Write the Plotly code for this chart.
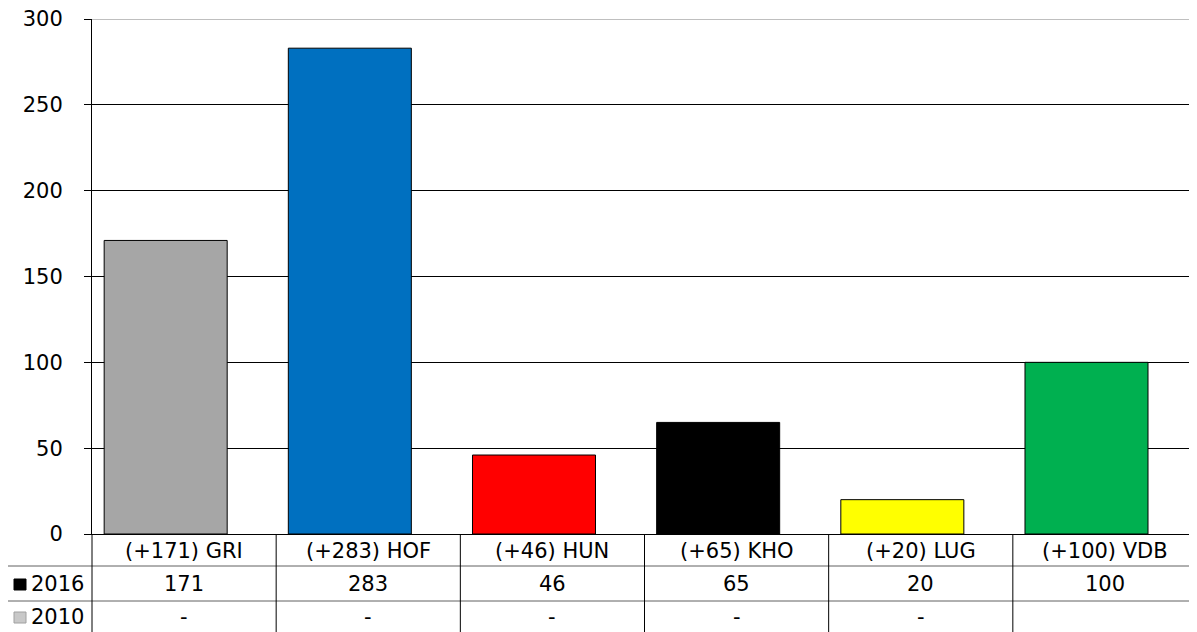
import plotly.graph_objects as go

categories = ["GRI", "HOF", "HUN", "KHO", "LUG", "VDB"]
values_2016 = [171, 283, 46, 65, 20, 100]
changes = ["+171", "+283", "+46", "+65", "+20", "+100"]
values_2010 = ["-", "-", "-", "-", "-", ""]
series_names = ["2016", "2010"]
series_key_colors = ["#000000", "#C8C8C8"]
series_key_lines = ["#000000", "#A0A0A0"]
bar_colors = ["#A6A6A6", "#0070C0", "#FF0000", "#000000", "#FFFF00", "#00B050"]
y_ticks = [0, 50, 100, 150, 200, 250, 300]

# page body margin offset (figure is drawn at 8,8 in the page)
OFF = 8
W, H = 1197 - OFF, 632 - OFF
ML, MR, MT, MB = 92 - OFF, 0, 19 - OFF, 98
PW = W - ML - MR
PH = H - MT - MB

def py(p):
    # reference pixel row -> paper y
    return (632 - MB - p) / PH

def px(p):
    # reference pixel column -> paper x
    return (p - 92) / PW

FONT = "DejaVu Sans"
FS = 21

xs = list(range(len(categories)))

fig = go.Figure()
# 2016 series drawn in the left slot of a two-series cluster (2010 slot empty)
fig.add_trace(go.Bar(
    x=xs, y=values_2016,
    marker=dict(color=bar_colors, line=dict(color="#000000", width=1)),
    width=0.668, offset=-0.434, hoverinfo="skip", showlegend=False,
))

shapes = []
shapes.append(dict(type="line", xref="paper", yref="y", x0=0, x1=1, y0=300, y1=300,
                   line=dict(color="#808080", width=1)))
for p in (566, 601):
    shapes.append(dict(type="line", xref="paper", yref="paper", x0=px(7), x1=1,
                       y0=py(p), y1=py(p), line=dict(color="#606060", width=1)))
shapes.append(dict(type="line", xref="paper", yref="paper", x0=px(7), x1=px(7),
                   y0=py(566), y1=py(632), line=dict(color="#000000", width=1)))
shapes.append(dict(type="line", xref="paper", yref="paper", x0=0, x1=0,
                   y0=0, y1=py(632), line=dict(color="#000000", width=1)))
for i in range(len(categories) - 1):
    shapes.append(dict(type="line", xref="x", yref="paper", x0=i + 0.5, x1=i + 0.5,
                       y0=0, y1=py(632), line=dict(color="#000000", width=1)))

row_centers = [584, 617]
for name, fc, lc, rc in zip(series_names, series_key_colors, series_key_lines, row_centers):
    shapes.append(dict(type="rect", xref="paper", yref="paper",
                       x0=px(14), x1=px(26), y0=py(rc - 5), y1=py(rc + 6),
                       fillcolor=fc, line=dict(color=lc, width=1)))

ann = []
for i, (c, ch, v16, v10) in enumerate(zip(categories, changes, values_2016, values_2010)):
    ann.append(dict(x=i, xref="x", y=py(551), yref="paper", text=f"({ch}) {c}",
                    showarrow=False, xanchor="center", yanchor="middle"))
    ann.append(dict(x=i, xref="x", y=py(584), yref="paper", text=str(v16),
                    showarrow=False, xanchor="center", yanchor="middle"))
    if v10:
        ann.append(dict(x=i, xref="x", y=py(617), yref="paper", text=v10,
                        showarrow=False, xanchor="center", yanchor="middle"))
for name, rc in zip(series_names, row_centers):
    ann.append(dict(x=px(29), xref="paper", y=py(rc), yref="paper", text=name,
                    showarrow=False, xanchor="left", yanchor="middle"))

fig.update_layout(
    width=W, height=H,
    margin=dict(l=ML, r=MR, t=MT, b=MB),
    paper_bgcolor="white", plot_bgcolor="white",
    font=dict(family=FONT, size=FS, color="#000000"),
    shapes=shapes, annotations=ann,
    xaxis=dict(range=[-0.5, len(categories) - 0.5], showticklabels=False, ticks="",
               showgrid=False, zeroline=False, showline=True, linecolor="#000000",
               linewidth=1, fixedrange=True),
    yaxis=dict(range=[0, 300], tickvals=y_ticks, showgrid=True, gridcolor="#000000",
               gridwidth=1, zeroline=False, showline=True, linecolor="#000000",
               linewidth=1, ticks="outside", ticklen=7, tickcolor="#000000",
               ticklabelstandoff=17, ticklabeloverflow="allow",
               tickfont=dict(family=FONT, size=FS), fixedrange=True),
)

fig.write_html("out.html")
